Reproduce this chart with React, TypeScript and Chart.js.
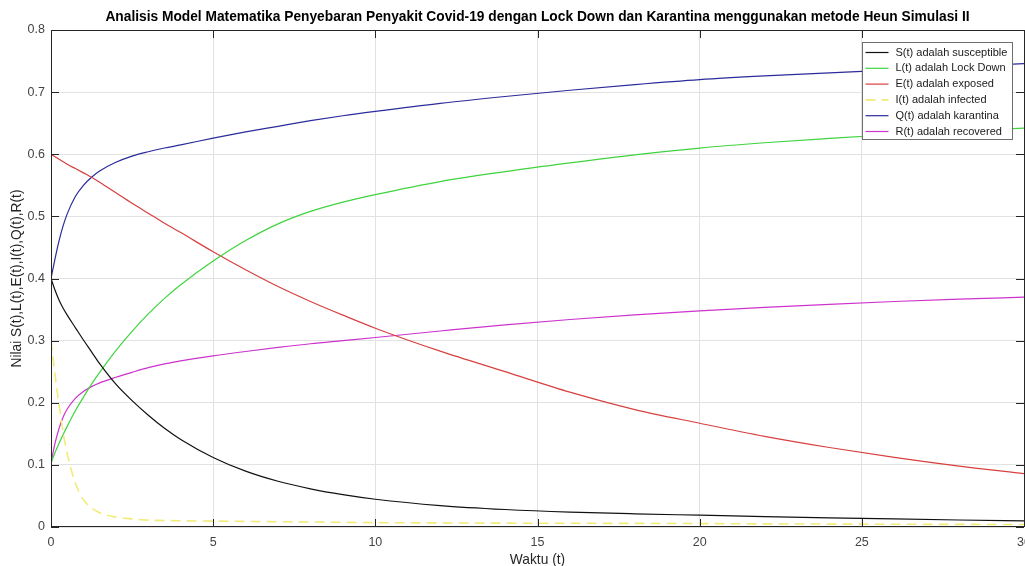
import React, { useEffect, useRef } from "react";
import { Chart, registerables } from "chart.js";

Chart.register(...registerables);

const TITLE =
  "Analisis Model Matematika Penyebaran Penyakit Covid-19 dengan Lock Down dan Karantina menggunakan metode Heun Simulasi II";
const X_TITLE = "Waktu (t)";
const Y_TITLE = "Nilai S(t),L(t),E(t),I(t),Q(t),R(t)";

const timeT = [0, 0.125, 0.25, 0.375, 0.5, 0.75, 1, 1.25, 1.5, 2, 2.5, 3, 3.5, 4, 5, 6, 7, 8, 9, 10, 12, 14, 16, 18, 20, 22, 24, 26, 28, 30];

const susceptibleS = [0.4, 0.381, 0.365, 0.352, 0.341, 0.321, 0.301, 0.282, 0.263, 0.23, 0.2035, 0.18, 0.159, 0.141, 0.112, 0.0899, 0.0736, 0.0615, 0.0521, 0.0447, 0.0345, 0.0282, 0.024, 0.0212, 0.019, 0.0168, 0.0148, 0.013, 0.0113, 0.0098];
const lockdownL = [0.103, 0.12, 0.135, 0.149, 0.162, 0.187, 0.209, 0.23, 0.249, 0.284, 0.315, 0.343, 0.368, 0.39, 0.428, 0.461, 0.488, 0.508, 0.523, 0.535, 0.556, 0.572, 0.586, 0.599, 0.61, 0.6185, 0.6255, 0.6318, 0.6372, 0.642];
const exposedE = [0.6, 0.596, 0.592, 0.588, 0.584, 0.577, 0.57, 0.563, 0.555, 0.538, 0.521, 0.505, 0.489, 0.474, 0.443, 0.414, 0.387, 0.363, 0.341, 0.32, 0.283, 0.25, 0.217, 0.189, 0.167, 0.146, 0.128, 0.112, 0.098, 0.086];
const infectedI = [0.3, 0.245, 0.196, 0.152, 0.118, 0.071, 0.044, 0.031, 0.023, 0.016, 0.013, 0.011, 0.0105, 0.01, 0.0095, 0.009, 0.0085, 0.008, 0.0075, 0.007, 0.0066, 0.0062, 0.006, 0.0058, 0.0055, 0.005, 0.0047, 0.0044, 0.0042, 0.004];
const karantinaQ = [0.4, 0.432, 0.461, 0.485, 0.504, 0.532, 0.55, 0.563, 0.573, 0.587, 0.597, 0.604, 0.61, 0.615, 0.626, 0.636, 0.645, 0.654, 0.662, 0.669, 0.682, 0.693, 0.703, 0.712, 0.72, 0.726, 0.731, 0.736, 0.741, 0.746];
const recoveredR = [0.103, 0.135, 0.159, 0.177, 0.19, 0.207, 0.218, 0.226, 0.232, 0.241, 0.249, 0.2565, 0.2625, 0.2675, 0.2755, 0.2825, 0.289, 0.295, 0.3, 0.305, 0.3155, 0.3255, 0.334, 0.3415, 0.348, 0.3535, 0.3585, 0.363, 0.3668, 0.37];

const seriesLabels = [
  "S(t) adalah susceptible",
  "L(t) adalah Lock Down",
  "E(t) adalah exposed",
  "I(t) adalah infected",
  "Q(t) adalah karantina",
  "R(t) adalah recovered",
];
const seriesValues = [susceptibleS, lockdownL, exposedE, infectedI, karantinaQ, recoveredR];
const seriesColors = ["#111111", "#3fd43f", "#d84040", "#f1ec7a", "#2b2b9c", "#cc33cc"];
const seriesWidths = [1.2, 1.2, 1.2, 1.6, 1.2, 1.2];
const seriesDash: number[][] = [[], [], [], [10, 6], [], []];

const xTicks = [0, 5, 10, 15, 20, 25, 30];
const yTicks = [0, 0.1, 0.2, 0.3, 0.4, 0.5, 0.6, 0.7, 0.8];

const FONT = "'Liberation Sans', Arial, Helvetica, sans-serif";

const decorPlugin = {
  id: "decor",
  afterDraw(chart: any) {
    const { ctx, chartArea: a, scales } = chart;
    const xs = scales.x;
    const ys = scales.y;
    ctx.save();
    ctx.strokeStyle = "#262626";
    ctx.lineWidth = 1;
    ctx.beginPath();
    for (const v of xTicks) {
      const px = Math.round(xs.getPixelForValue(v)) + 0.5;
      ctx.moveTo(px, a.bottom);
      ctx.lineTo(px, a.bottom - 8);
      ctx.moveTo(px, a.top);
      ctx.lineTo(px, a.top + 8);
    }
    for (const v of yTicks) {
      const py = Math.round(ys.getPixelForValue(v)) + 0.5;
      ctx.moveTo(a.left, py);
      ctx.lineTo(a.left + 8, py);
      ctx.moveTo(a.right, py);
      ctx.lineTo(a.right - 8, py);
    }
    ctx.stroke();
    ctx.strokeRect(Math.round(a.left) + 0.5, Math.round(a.top) + 0.5, Math.round(a.right - a.left), Math.round(a.bottom - a.top) - 1);

    // legend box inside the axes, top-right
    const bw = 150;
    const bh = 97;
    const bx = Math.round(a.right - 12 - bw) + 0.5;
    const by = Math.round(a.top + 12) + 0.5;
    ctx.fillStyle = "#ffffff";
    ctx.fillRect(bx, by, bw, bh);
    ctx.strokeStyle = "#6e6e6e";
    ctx.strokeRect(bx, by, bw, bh);
    ctx.font = "11px " + FONT;
    ctx.textBaseline = "middle";
    ctx.textAlign = "left";
    chart.data.datasets.forEach((ds: any, i: number) => {
      const cy = by + 10 + i * 15.8;
      ctx.strokeStyle = ds.borderColor;
      ctx.lineWidth = ds.borderWidth;
      ctx.setLineDash(ds.borderDash || []);
      ctx.beginPath();
      ctx.moveTo(bx + 3, cy);
      ctx.lineTo(bx + 26, cy);
      ctx.stroke();
      ctx.setLineDash([]);
      ctx.fillStyle = "#1a1a1a";
      ctx.fillText(ds.label, bx + 33, cy);
    });
    ctx.restore();
  },
};

export default function App() {
  const ref = useRef<HTMLCanvasElement | null>(null);

  useEffect(() => {
    const canvas = ref.current;
    if (!canvas) return;
    const datasets = seriesLabels.map((label, i) => ({
      label,
      data: timeT.map((t, j) => ({ x: t, y: seriesValues[i][j] })),
      borderColor: seriesColors[i],
      backgroundColor: seriesColors[i],
      borderWidth: seriesWidths[i],
      borderDash: seriesDash[i],
      pointRadius: 0,
      fill: false,
      cubicInterpolationMode: "monotone" as const,
    }));
    const chart = new Chart(canvas, {
      type: "line",
      data: { datasets },
      plugins: [decorPlugin],
      options: {
        animation: false,
        responsive: false,
        devicePixelRatio: 1,
        layout: { padding: { left: 0, right: 16, top: 0, bottom: 0 } },
        plugins: {
          legend: { display: false },
          tooltip: { enabled: false },
          title: {
            display: true,
            fullSize: false,
            text: TITLE,
            color: "#000000",
            font: { family: FONT, size: 13.75, weight: "bold" },
            padding: { top: 9, bottom: 4.5 },
          },
        },
        scales: {
          x: {
            type: "linear",
            min: 0,
            max: 30,
            afterBuildTicks: (s: any) => {
              s.ticks = xTicks.map((v) => ({ value: v }));
            },
            afterFit: (s: any) => {
              s.height = 45;
            },
            ticks: {
              color: "#444444",
              font: { family: FONT, size: 12.5 },
              padding: 8,
              maxRotation: 0,
              autoSkip: false,
              callback: (v: any) => String(v),
            },
            grid: { color: "#e2e2e2", drawTicks: false },
            border: { display: false },
            title: {
              display: true,
              text: X_TITLE,
              color: "#262626",
              font: { family: FONT, size: 13.75 },
              padding: { top: 2, bottom: 4 },
            },
          },
          y: {
            type: "linear",
            min: 0,
            max: 0.8,
            afterBuildTicks: (s: any) => {
              s.ticks = yTicks.map((v) => ({ value: v }));
            },
            afterFit: (s: any) => {
              s.width = 51;
            },
            ticks: {
              color: "#444444",
              font: { family: FONT, size: 12.5 },
              padding: 6,
              autoSkip: false,
              callback: (v: any) => String(Number(Number(v).toFixed(1))),
            },
            grid: { color: "#e2e2e2", drawTicks: false },
            border: { display: false },
            title: {
              display: true,
              text: Y_TITLE,
              color: "#262626",
              font: { family: FONT, size: 13.75 },
              padding: { top: 9, bottom: 0 },
            },
          },
        },
      },
    });
    return () => chart.destroy();
  }, []);

  return (
    <div style={{ position: "absolute", left: 0, top: 0, width: 1025, height: 566, overflow: "hidden", background: "#ffffff" }}>
      <canvas ref={ref} width={1040} height={572} style={{ display: "block", width: 1040, height: 572 }} />
    </div>
  );
}
